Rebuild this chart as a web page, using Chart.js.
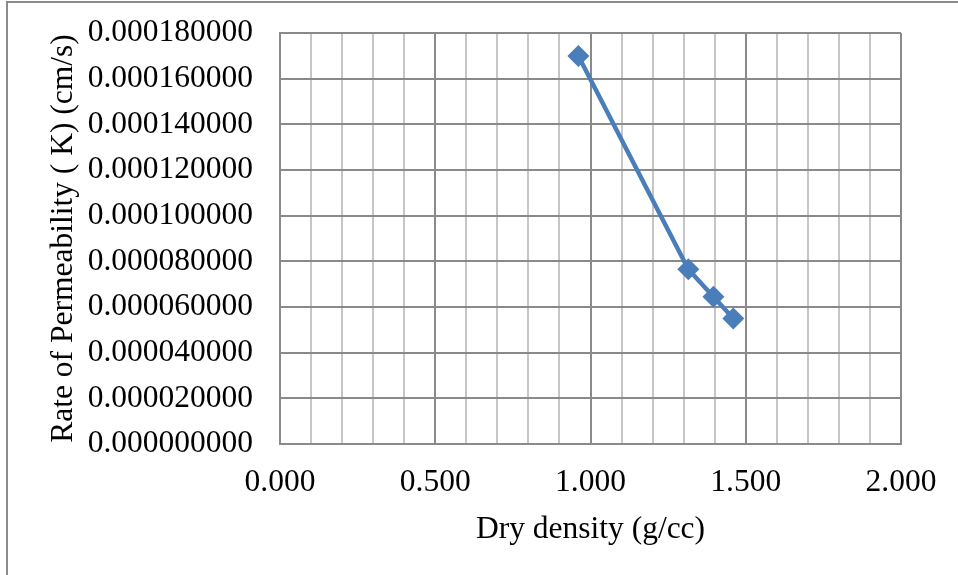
<!DOCTYPE html>
<html>
<head>
<meta charset="utf-8">
<script src="https://cdn.jsdelivr.net/npm/chart.js@4.4.1/dist/chart.umd.min.js"></script>
<style>
  html, body { margin: 0; padding: 0; background: #fff; overflow: hidden; }
  #wrap { position: relative; width: 958px; height: 575px; }
  #frame {
    position: absolute; left: 6px; top: 1px; width: 1000px; height: 1000px;
    border-left: 2px solid #8c8c8c; border-top: 2px solid #8c8c8c;
  }
  canvas { position: absolute; left: 0; top: 0; }
</style>
</head>
<body>
<div id="wrap">
  <div id="frame"></div>
  <canvas id="chartPermeabilidade" width="958" height="575"></canvas>
</div>
<script>
// dados
const dryDensity = [0.961, 1.315, 1.396, 1.460];
const permeability = [0.0001699, 0.0000765, 0.0000645, 0.0000550];
const xTickLabels = ["0.000", "0.500", "1.000", "1.500", "2.000"];
const yTickLabels = ["0.000000000", "0.000020000", "0.000040000", "0.000060000", "0.000080000",
  "0.000100000", "0.000120000", "0.000140000", "0.000160000", "0.000180000"];

const fonte = "'Liberation Serif', 'Times New Roman', serif";
const corMaior = "#8a8a8a";
const corMenor = "#c6c6c6";

const ctx = document.getElementById("chartPermeabilidade").getContext("2d");

new Chart(ctx, {
  type: 'line',
  data: {
    datasets: [{
      label: "K",
      data: dryDensity.map((d, i) => ({ x: d, y: permeability[i] })),
      borderColor: "#4a7ebb",
      backgroundColor: "#4a7ebb",
      borderWidth: 4.5,
      pointStyle: 'rectRot',
      pointRadius: 11,
      pointBorderWidth: 0,
      tension: 0,
      fill: false
    }]
  },
  options: {
    responsive: false,
    animation: false,
    layout: { padding: { top: 33, right: 57, bottom: 0, left: 0 } },
    plugins: {
      legend: { display: false },
      tooltip: { enabled: false }
    },
    scales: {
      x: {
        type: 'linear',
        min: 0,
        max: 2,
        afterFit: scale => {
          scale.height = 131;
          scale.paddingLeft = 0;
          scale.paddingRight = 0;
        },
        border: { color: corMaior, width: 2 },
        grid: {
          drawTicks: false,
          lineWidth: 2,
          color: c => (Math.round(c.tick.value * 10) % 5 === 0 ? corMaior : corMenor)
        },
        ticks: {
          stepSize: 0.1,
          autoSkip: false,
          maxRotation: 0,
          padding: 20,
          color: "#000",
          font: { family: fonte, size: 31.5 },
          callback: value => {
            const n = Math.round(value * 10);
            return n % 5 === 0 ? xTickLabels[n / 5] : '';
          }
        },
        title: {
          display: true,
          text: 'Dry density (g/cc)',
          color: "#000",
          font: { family: fonte, size: 31.5 },
          padding: { top: 0, bottom: 26 }
        }
      },
      y: {
        min: 0,
        max: 0.00018,
        afterFit: scale => {
          scale.width = 280;
          scale.paddingTop = 0;
          scale.paddingBottom = 0;
        },
        border: { color: corMaior, width: 2 },
        grid: { drawTicks: false, lineWidth: 2, color: corMaior },
        ticks: {
          stepSize: 0.00002,
          autoSkip: false,
          padding: 27,
          color: "#000",
          font: { family: fonte, size: 31.5 },
          callback: value => yTickLabels[Math.round(value / 0.00002)]
        },
        title: {
          display: true,
          text: 'Rate of Permeability ( K) (cm/s)',
          color: "#000",
          font: { family: fonte, size: 31.5 },
          padding: { top: 45, bottom: 0 }
        }
      }
    }
  }
});
</script>
</body>
</html>
